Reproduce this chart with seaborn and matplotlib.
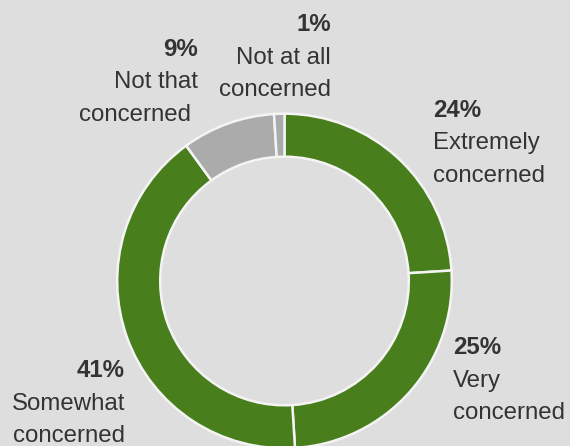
import matplotlib
matplotlib.use("Agg")
import matplotlib.pyplot as plt
import seaborn as sns

# ---- data ----
categories = ["Extremely\nconcerned", "Very\nconcerned", "Somewhat\nconcerned",
              "Not that\nconcerned", "Not at all\nconcerned"]
values = [24, 25, 41, 9, 1]
pct_labels = ["24%", "25%", "41%", "9%", "1%"]

GREEN = "#487e1b"
GRAY = "#ababab"
BG = "#dedede"
TEXT = "#333333"
colors = [GREEN, GREEN, GREEN, GRAY, GRAY]

sns.set_theme(style="white", rc={"figure.facecolor": BG, "axes.facecolor": BG})
plt.rcParams["font.family"] = ["Liberation Sans", "DejaVu Sans"]

W, H = 570, 446
fig = plt.figure(figsize=(W / 100, H / 100), dpi=100)
ax = fig.add_axes([0, 0, 1, 1])
ax.set_facecolor(BG)

cx, cy = 284.5, H - 281
R = 167.3
ring = 43

ax.pie(values, colors=colors, startangle=90, counterclock=False,
       center=(cx, cy), radius=R,
       wedgeprops=dict(width=ring, edgecolor="#f4f4f4", linewidth=1.8))

ax.set_xlim(0, W)
ax.set_ylim(0, H)
ax.set_aspect("equal", adjustable="box")
ax.axis("off")

# label layout: (anchor x, first baseline y in px from top, ha, third-line x offset)
layout = {
    0: (433, 117, "left", 0),
    1: (453, 354, "left", 0),
    2: (125, 377, "right", 0),
    3: (198, 56, "right", -7),
    4: (331, 31, "right", 0),
}
fs = 17.3
lh = 32.5
for i, (x, b, ha, off3) in layout.items():
    ax.text(x, H - b, pct_labels[i], ha=ha, va="baseline", fontsize=fs,
            fontweight="bold", color=TEXT)
    for j, line in enumerate(categories[i].split("\n")):
        xx = x + (off3 if j == 1 else 0)
        ax.text(xx, H - (b + lh * (j + 1)), line, ha=ha, va="baseline",
                fontsize=fs, color=TEXT)

fig.savefig("out.png", dpi=100, facecolor=BG)
